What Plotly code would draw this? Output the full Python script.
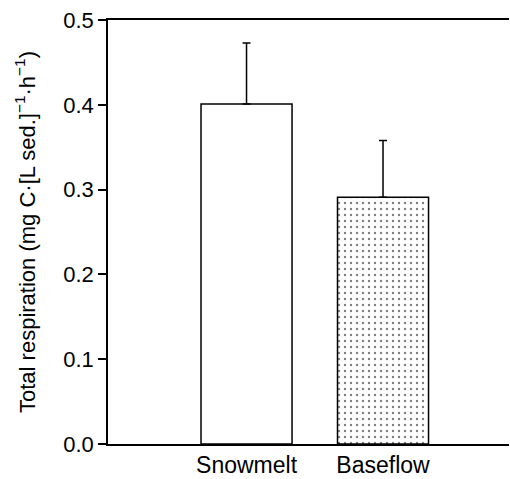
import plotly.graph_objects as go

categories = ["Snowmelt", "Baseflow"]
values = [0.401, 0.291]
errors = [0.072, 0.067]
y_ticks = [0.0, 0.1, 0.2, 0.3, 0.4, 0.5]

fig = go.Figure()
fig.add_trace(go.Bar(
    x=[0, 1], y=values, width=0.667,
    marker=dict(
        color="white",
        line=dict(color="black", width=1.5),
        pattern=dict(shape=["", "."], fgcolor="black", bgcolor="white", size=6, solidity=0.12),
    ),
    error_y=dict(type="data", array=errors, arrayminus=[0, 0], symmetric=False,
                 color="black", thickness=1.5, width=4),
    showlegend=False,
))

FONT = "Arial, Liberation Sans, sans-serif"
fig.update_layout(
    width=510, height=479,
    margin=dict(l=108, r=1, t=20, b=33),
    paper_bgcolor="white", plot_bgcolor="white",
    font=dict(family=FONT, size=22, color="black"),
    xaxis=dict(
        range=[-1.015, 1.923], tickmode="array", tickvals=[0, 1], ticktext=categories,
        showline=True, linecolor="black", linewidth=1.5, mirror=True,
        ticks="", showgrid=False, zeroline=False,
        tickfont=dict(family=FONT, size=23, color="black"),
    ),
    yaxis=dict(
        range=[0, 0.5], tickmode="array", tickvals=y_ticks,
        ticktext=[f"{v:.1f}" for v in y_ticks],
        showline=True, linecolor="black", linewidth=1.5,
        ticks="outside", ticklen=8, tickwidth=1.5, tickcolor="black",
        showgrid=False, zeroline=False,
        tickfont=dict(family=FONT, size=22, color="black"),
        title=dict(text="Total respiration (mg C·[L sed.]<sup>−1</sup>·h<sup>−1</sup>)",
                   font=dict(family=FONT, size=22, color="black"), standoff=22),
    ),
)

fig.write_html("out.html")
